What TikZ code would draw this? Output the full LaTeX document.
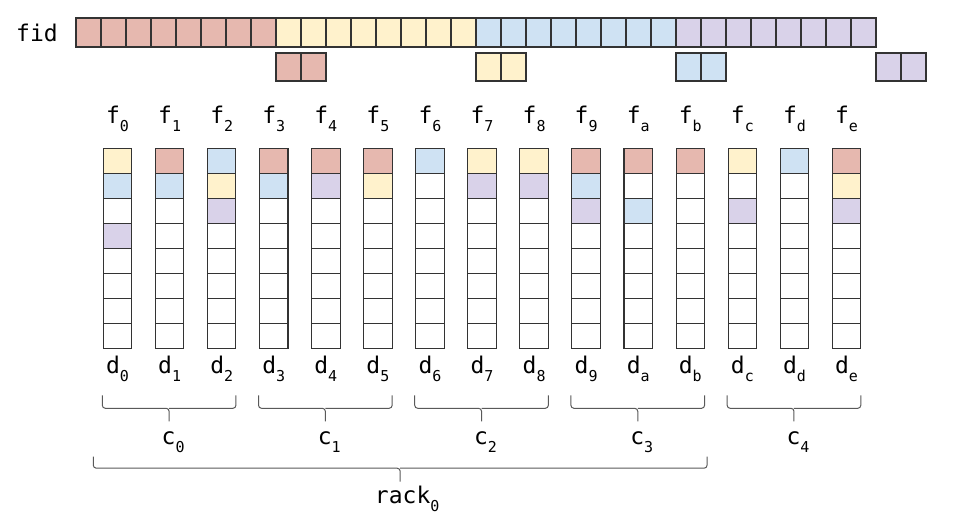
\documentclass[tikz,border=0pt]{standalone}
\usepackage{fontspec}
\setmonofont{DejaVu Sans Mono}
\usetikzlibrary{calc}
\definecolor{slotR}{HTML}{E6B8AF}
\definecolor{slotY}{HTML}{FFF2CC}
\definecolor{slotB}{HTML}{CFE2F3}
\definecolor{slotP}{HTML}{D9D2E9}
\definecolor{slotW}{HTML}{FFFFFF}
\newcommand{\idx}[1]{\raisebox{-8pt}{\fontsize{15}{17}\selectfont #1}}
\tikzset{
  slot/.style = {draw=black!80, line width=1.1pt, minimum width=25pt, minimum height=29pt, inner sep=0, outer sep=0},
  cell/.style = {slot, minimum width=28.5pt, minimum height=25pt},
  lbl/.style  = {font=\ttfamily\fontsize{23}{27}\selectfont, inner sep=0, anchor=base},
  brak/.style = {draw=black!65, line width=1pt, rounded corners=3pt}
}
\begin{document}
\begin{tikzpicture}[x=1pt, y=-1pt]
  \useasboundingbox (0,0) rectangle (958,529);
  \node[lbl] (fid) at (37,41.7) {fid};
  \foreach \clr [count=\g from 0] in {R,Y,B,P}{
    \foreach \k in {0,...,7}
      \node[slot, fill=slot\clr, anchor=north west] (fid\g-\k) at ({76+25*(8*\g+\k)},18) {};
    \foreach \k in {0,1}
      \node[slot, fill=slot\clr, minimum height=28pt, anchor=north west] (sp\g-\k) at ({76+25*(8*\g+8+\k)},53) {};
  }
  \foreach \h/\cl [count=\i from 0] in {0/{Y,B,W,P},1/{R,B},2/{B,Y,P},3/{R,B},4/{R,P},5/{R,Y},6/{B},7/{Y,P},
                                        8/{Y,P},9/{R,B,P},a/{R,W,B},b/{R},c/{Y,W,P},d/{B},e/{R,Y,P}}{
    \pgfmathsetmacro\x{103.3+52.07*\i}
    \foreach \c [count=\r from 0] in \cl
      \fill[fill=slot\c] (\x,148.3+25*\r) rectangle ++(28.5,25);
    \foreach \r in {0,...,7}
      \node[cell, anchor=north west] (d\h-\r) at (\x,148.3+25*\r) {};
    \node[lbl] (f\h) at (\x+14.25,123.3) {f\idx{\h}};
    \node[lbl] (d\h) at (\x+14.25,373.3) {d\idx{\h}};
  }
  \foreach \a/\b [count=\g from 0] in {0/2,3/5,6/8,9/b,c/e}{
    \coordinate (bl\g) at ($(d\a-7.south west)+(-1,47)$);
    \coordinate (br\g) at ($(d\b-7.south east)+(0,47)$);
    \coordinate (bm\g) at ($(bl\g)!.5!(br\g)+(0,13)$);
    \draw[brak] (bl\g) |- (bm\g) -- ++(0,13) coordinate (bt\g);
    \draw[brak] (br\g) |- (bm\g);
    \node[lbl] (c\g) at ($(bt\g)+(4,23)$) {c\idx{\g}};
  }
  \coordinate (rl) at ($(d0-7.south west)+(-10,108.4)$);
  \coordinate (rr) at ($(db-7.south east)+(2.5,108.4)$);
  \coordinate (rm) at ($(rl)!.5!(rr)+(0,11.5)$);
  \draw[brak] (rl) |- (rm) -- ++(0,13.5) coordinate (rt);
  \draw[brak] (rr) |- (rm);
  \node[lbl] (rack) at ($(rt)+(7,21.5)$) {rack\idx{0}};
\end{tikzpicture}
\end{document}
